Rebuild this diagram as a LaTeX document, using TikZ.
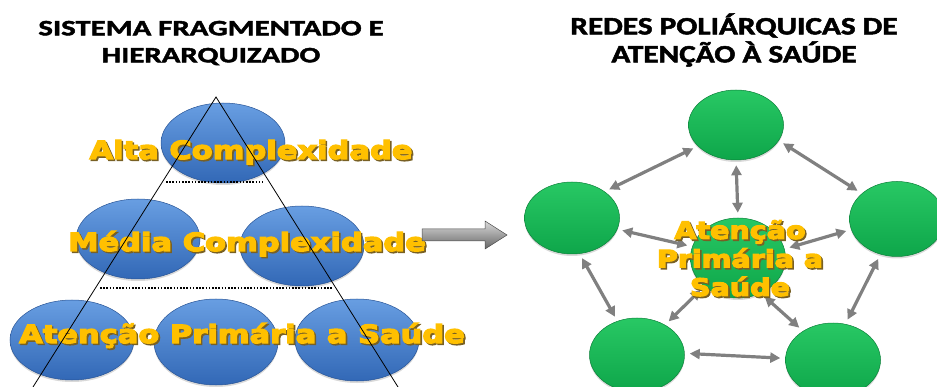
\documentclass[tikz,border=0pt]{standalone}
\usepackage{fontspec}
\usepackage{xcolor}
\usetikzlibrary{positioning}
\usetikzlibrary{shapes.geometric, arrows.meta, shadows}
\newfontfamily\titleboldfont{Carlito Bold}[FakeStretch=1.40, FakeBold=2]
\newfontfamily\titlewidefont{Carlito Bold}[FakeStretch=1.25, FakeBold=2]
\newfontfamily\levelfont{DejaVu Sans Bold}[FakeStretch=1.22, FakeBold=5]
\newfontfamily\centerfont{DejaVu Sans Bold}[FakeStretch=1.19, FakeBold=5]
\definecolor{blueTop}{RGB}{104,158,226}
\definecolor{blueBot}{RGB}{50,104,182}
\definecolor{blueEdge}{RGB}{40,84,150}
\definecolor{greenTop}{RGB}{40,200,100}
\definecolor{greenBot}{RGB}{14,166,74}
\definecolor{greenEdge}{RGB}{10,128,56}
\definecolor{linkgray}{RGB}{128,128,128}
\definecolor{labelgold}{RGB}{255,192,0}
\definecolor{labelshade}{RGB}{120,96,36}
\newcommand\goldtext[1]{\makebox[0pt][l]{\hspace{1.6pt}\raisebox{-1.6pt}{\textcolor{labelshade}{#1}}}\textcolor{labelgold}{#1}}
\tikzstyle{titletext} = [inner sep=0pt, align=center, font=\titleboldfont\fontsize{22}{27}\selectfont]
\tikzstyle{blueball} = [ellipse, inner sep=0pt, minimum width=124pt, minimum height=80pt, top color=blueTop, bottom color=blueBot, draw=blueEdge, line width=0.5pt, drop shadow={shadow xshift=0pt, shadow yshift=-2pt, opacity=0.3}]
\tikzstyle{greenball} = [ellipse, inner sep=0pt, minimum width=95pt, minimum height=72pt, top color=greenTop, bottom color=greenBot, draw=greenEdge, line width=0.5pt, drop shadow={shadow xshift=0pt, shadow yshift=-2pt, opacity=0.3}]
\tikzstyle{leveltext} = [inner sep=0pt, anchor=base, font=\levelfont\fontsize{25}{28}\selectfont]
\tikzstyle{levelline} = [line width=1.6pt, dash pattern=on 1.6pt off 1.6pt]
\tikzstyle{link} = [draw=linkgray, line width=3.2pt, {Triangle[length=10pt,width=10pt]}-{Triangle[length=10pt,width=10pt]}, shorten <=5pt, shorten >=5pt]

\begin{document}
\begin{tikzpicture}[x=1pt, y=-1pt]
      \useasboundingbox (0,0) rectangle (937,387);
      \clip (0,0) rectangle (937,387);
      %%%%%%%%%%%%%%%%%%%%%%%%%%%%%%%%%%%%%%%
      \node[titletext] (lefttitle) at (211,43) {SISTEMA FRAGMENTADO E\\HIERARQUIZADO};
      \node[titletext, font=\titlewidefont\fontsize{25}{28}\selectfont] (righttitle) at (734,40) {REDES POLIÁRQUICAS DE\\ATENÇÃO À SAÚDE};
      % hierarquia
      \node[blueball] (alta) at (223,143) {};
      \node[blueball] (media1) at (138,239) {};
      \node[blueball] (media2) at (302,246) {};
      \node[blueball] (aps1) at (72,340) {};
      \node[blueball, minimum height=86pt] (aps2) at (216,342) {};
      \node[blueball, minimum height=82pt] (aps3) at (357,340) {};
      \node[leveltext] (altatxt) at (251,159) {\goldtext{Alta Complexidade}};
      \node[leveltext] (mediatxt) at (247,251) {\goldtext{Média Complexidade}};
      \node[leveltext] (apstxt) at (242,343) {\goldtext{Atenção Primária a Saúde}};
      \coordinate (apex) at (216,97);
      \coordinate (tribl) at (33,387);
      \coordinate (tribr) at (398,387);
      \draw[line width=0.8pt] (tribl) -- (apex) -- (tribr);
      \draw[levelline] (166,182) -- (263,182);
      \draw[levelline] (100,288) -- (332,288);
      % seta
      \shade[top color=gray!30, bottom color=gray!80!black, draw=gray!60!black, line width=0.5pt] (422,229) -- (485,229) -- (485,221) -- (507,235) -- (485,249) -- (485,241) -- (422,241) -- cycle;
      % rede
      \node[greenball, minimum height=70pt] (r1) at (736,125) {};
      \node[greenball] (r2) at (572,218) {};
      \node[greenball, minimum height=75pt] (r3) at (897,219) {};
      \node[greenball, minimum height=74pt] (r4) at (637,355) {};
      \node[greenball, minimum height=74pt] (r5) at (833,360) {};
      \node[greenball, minimum height=80pt] (aps) at (738,258) {};
      \draw[link] (r2.39) -- (r1.209);
      \draw[link] (r1.340) -- (r3.144);
      \draw[link] (r1.270) -- (aps.90);
      \draw[link] (r2.346) -- (aps.166);
      \draw[link] (aps.11) -- (r3.193);
      \draw[link] (r2.282) -- (r4.120);
      \draw[link] (aps.220) -- (r4.47);
      \draw[link] (aps.303) -- (r5.136);
      \draw[link] (r3.245) -- (r5.71);
      \draw[link] (r4.2) -- (r5.178);
      \node[leveltext, anchor=center, align=center, font=\centerfont\fontsize{24}{28.5}\selectfont] (apstxt2) at (740,259) {\goldtext{Atenção}\\\goldtext{Primária a}\\\goldtext{Saúde}};
\end{tikzpicture}
\end{document}
